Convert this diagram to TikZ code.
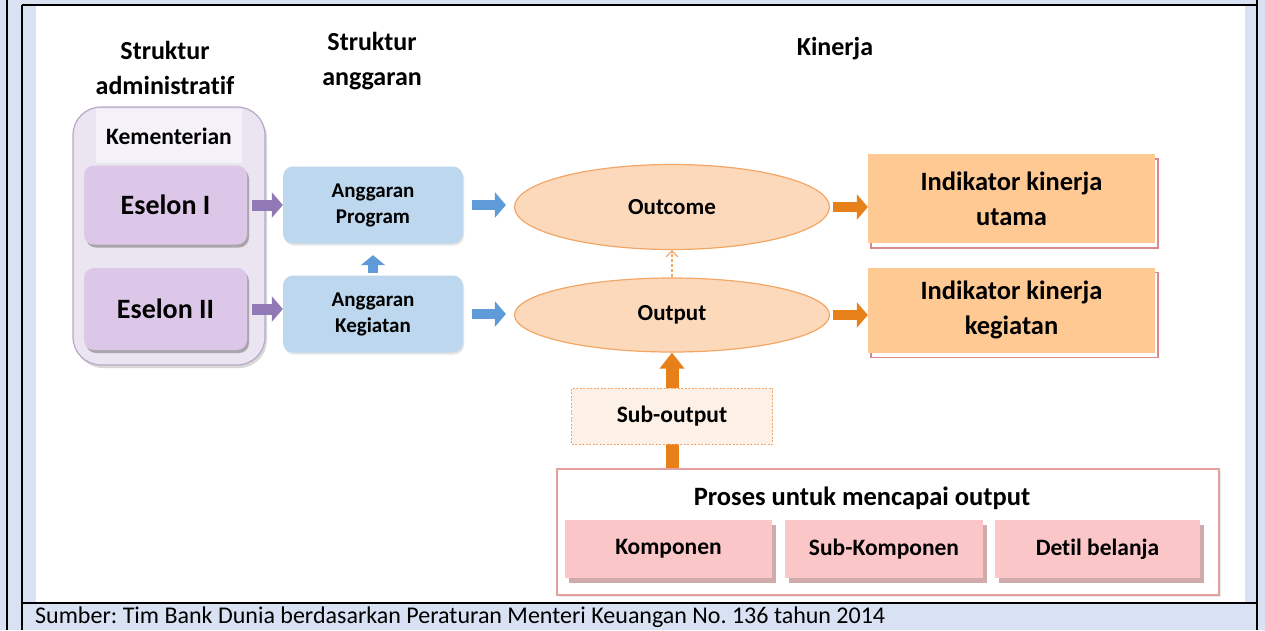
\documentclass[tikz,border=0pt]{standalone}
\usepackage{fontspec}
\setmainfont[Ligatures=NoCommon]{Carlito}
\usetikzlibrary{arrows.meta,shapes.geometric,shadows}
\frenchspacing
\definecolor{frame_blue}{HTML}{D9E2F3}
\definecolor{adm_fill}{HTML}{EBE4F1}
\definecolor{adm_line}{HTML}{B5A8C9}
\definecolor{adm_label}{HTML}{F5F1F9}
\definecolor{eselon_fill}{HTML}{DCC7E8}
\definecolor{eselon_arrow}{HTML}{9079B4}
\definecolor{agr_fill}{HTML}{BDD7EE}
\definecolor{agr_arrow}{HTML}{5F9BD8}
\definecolor{perf_fill}{HTML}{FCD9BA}
\definecolor{perf_line}{HTML}{F2A766}
\definecolor{perf_arrow}{HTML}{E8801A}
\definecolor{ind_fill}{HTML}{FFC994}
\definecolor{ind_line}{HTML}{D9898B}
\definecolor{sub_fill}{HTML}{FDF0E6}
\definecolor{proc_line}{HTML}{E3A0A0}
\definecolor{proc_fill}{HTML}{FAC6C8}
\tikzset{
    head_text/.style={font=\fontsize{26}{35}\selectfont\bfseries,align=center,inner sep=0pt},
    adm_box/.style={draw=adm_line,line width=1.2pt,fill=adm_fill,rounded corners=28pt,
        minimum width=192pt,minimum height=258pt,
        drop shadow={shadow xshift=2pt,shadow yshift=-3pt,fill=black!30,opacity=.5}},
    adm_label/.style={fill=adm_label,minimum width=146pt,minimum height=54pt,
        font=\fontsize{23.5}{28}\selectfont\bfseries},
    eselon_box/.style={fill=eselon_fill,rounded corners=10pt,minimum width=163pt,minimum height=79pt,
        font=\fontsize{28}{32}\selectfont\bfseries,
        drop shadow={shadow xshift=2pt,shadow yshift=-3pt,fill=black!55,opacity=.55}},
    agr_box/.style={fill=agr_fill,rounded corners=10pt,minimum width=180pt,minimum height=77pt,
        align=center,font=\fontsize{21}{26}\selectfont\bfseries,
        drop shadow={shadow xshift=1pt,shadow yshift=-2pt,fill=black!25,opacity=.4}},
    perf_ellipse/.style={ellipse,draw=perf_line,line width=1.2pt,fill=perf_fill,
        minimum width=315pt,inner sep=0pt,font=\fontsize{23}{28}\selectfont\bfseries},
    ind_box/.style={fill=ind_fill,minimum width=287pt,minimum height=89pt,align=center,
        font=\fontsize{26.5}{35}\selectfont\bfseries,
        drop shadow={shadow xshift=3pt,shadow yshift=-5pt,fill=white,draw=ind_line,line width=1.5pt,opacity=1}},
    sub_box/.style={draw=perf_line,dash pattern=on 2pt off 1.5pt,line width=1pt,fill=sub_fill,
        minimum width=201pt,minimum height=56pt,font=\fontsize{23.5}{28}\selectfont\bfseries},
    proc_box/.style={draw=proc_line,line width=1.5pt,fill=white,minimum width=662pt,minimum height=126pt,
        drop shadow={shadow xshift=2pt,shadow yshift=-2pt,fill=black!20,opacity=.4}},
    proc_title/.style={font=\fontsize{26.5}{30}\selectfont\bfseries},
    proc_item/.style={fill=proc_fill,minimum height=58pt,font=\fontsize{23.5}{28}\selectfont\bfseries,
        drop shadow={shadow xshift=4pt,shadow yshift=-5pt,fill=proc_line!70!gray,opacity=.8}},
    src_text/.style={font=\fontsize{24}{28}\selectfont,inner sep=0pt},
    block_arrow/.style={line width=11pt,-{Triangle[length=11pt,width=25pt]}},
    small_arrow/.style={line width=10pt,-{Triangle[length=10pt,width=24pt]}},
    dashed_arrow/.style={draw=perf_line,line width=1.2pt,dash pattern=on 3pt off 2pt,
        -{Straight Barb[length=6pt,width=12pt]}},
}
\begin{document}
\begin{tikzpicture}[x=1pt,y=-1pt]
  \useasboundingbox (0,0) rectangle (1265,630);
  % Frame of the table cell
  \fill[frame_blue] (0,0) rectangle (1265,630);
  \fill[white] (36,6) rectangle (1245,602);
  \draw[line width=2.5pt] (7,0) -- (7,630);
  \draw[line width=2.5pt] (22,5) -- (22,630);
  \draw[line width=2.5pt] (22,5) -- (1257,5);
  \draw[line width=2.5pt] (1257,0) -- (1257,630);
  \draw[line width=2.5pt] (22,603) -- (1257,603);
  % Column headers
  \node[head_text] (h_adm) at (165,68) {Struktur\\administratif};
  \node[head_text] (h_agr) at (372,61) {Struktur\\anggaran};
  \node[head_text] (h_kin) at (835,49) {Kinerja};
  % Administrative structure
  \node[adm_box] (kem) at (169,236) {};
  \node[adm_label] (kem_lbl) at (169,136) {Kementerian};
  \node[eselon_box] (es1) at (165.5,205) {Eselon I};
  \node[eselon_box,minimum height=82pt] (es2) at (165.5,309) {Eselon II};
  % Budget structure
  \node[agr_box] (aprog) at (373,205) {Anggaran\\Program};
  \node[agr_box] (akeg) at (373,314) {Anggaran\\Kegiatan};
  % Performance
  \node[perf_ellipse,minimum height=85pt] (outcome) at (672,207) {Outcome};
  \node[perf_ellipse,minimum height=74pt] (output) at (672,315) {Output};
  \node[ind_box] (ind1) at (1011.5,198.5) {Indikator kinerja\\utama};
  \node[ind_box,minimum height=85pt] (ind2) at (1011.5,310) {Indikator kinerja\\kegiatan};
  % Process box
  \node[proc_box] (proses) at (888,532) {};
  \node[proc_title] (proses_lbl) at (862,498) {Proses untuk mencapai output};
  \node[proc_item,minimum width=207pt] (komp) at (668.5,549) {Komponen};
  \node[proc_item,minimum width=198pt] (subkomp) at (884,549) {Sub-Komponen};
  \node[proc_item,minimum width=205pt] (detil) at (1097.5,549) {Detil belanja};
  % Arrows
  \draw[block_arrow,eselon_arrow,shorten <=5pt] (es1.east) -- (es1.east -| aprog.west);
  \draw[block_arrow,eselon_arrow,shorten <=5pt] (es2.east) -- (es2.east -| akeg.west);
  \draw[small_arrow,agr_arrow,shorten <=2.5pt,shorten >=11.5pt] (akeg.north) -- (aprog.south);
  \draw[block_arrow,agr_arrow,line width=10pt,shorten <=9pt,shorten >=8pt] (aprog.east) -- (aprog.east -| outcome.west);
  \draw[block_arrow,agr_arrow,line width=10pt,shorten <=9pt,shorten >=8pt] (akeg.east) -- (akeg.east -| output.west);
  \draw[block_arrow,perf_arrow,line width=10pt,shorten <=3pt] (outcome.east) -- (outcome.east -| ind1.west);
  \draw[block_arrow,perf_arrow,line width=10pt,shorten <=3pt] (output.east) -- (output.east -| ind2.west);
  \draw[dashed_arrow] (output.north) -- (outcome.south);
  \draw[perf_arrow,line width=13pt,-{Triangle[length=16pt,width=24pt]}] (output.south |- proses.north) -- (output.south);
  \node[sub_box] (sub) at (672,416) {Sub-output};
  % Source line
  \node[src_text,anchor=west] (src) at (35,617) {Sumber: Tim Bank Dunia berdasarkan Peraturan Menteri Keuangan No. 136 tahun 2014};
\end{tikzpicture}
\end{document}
